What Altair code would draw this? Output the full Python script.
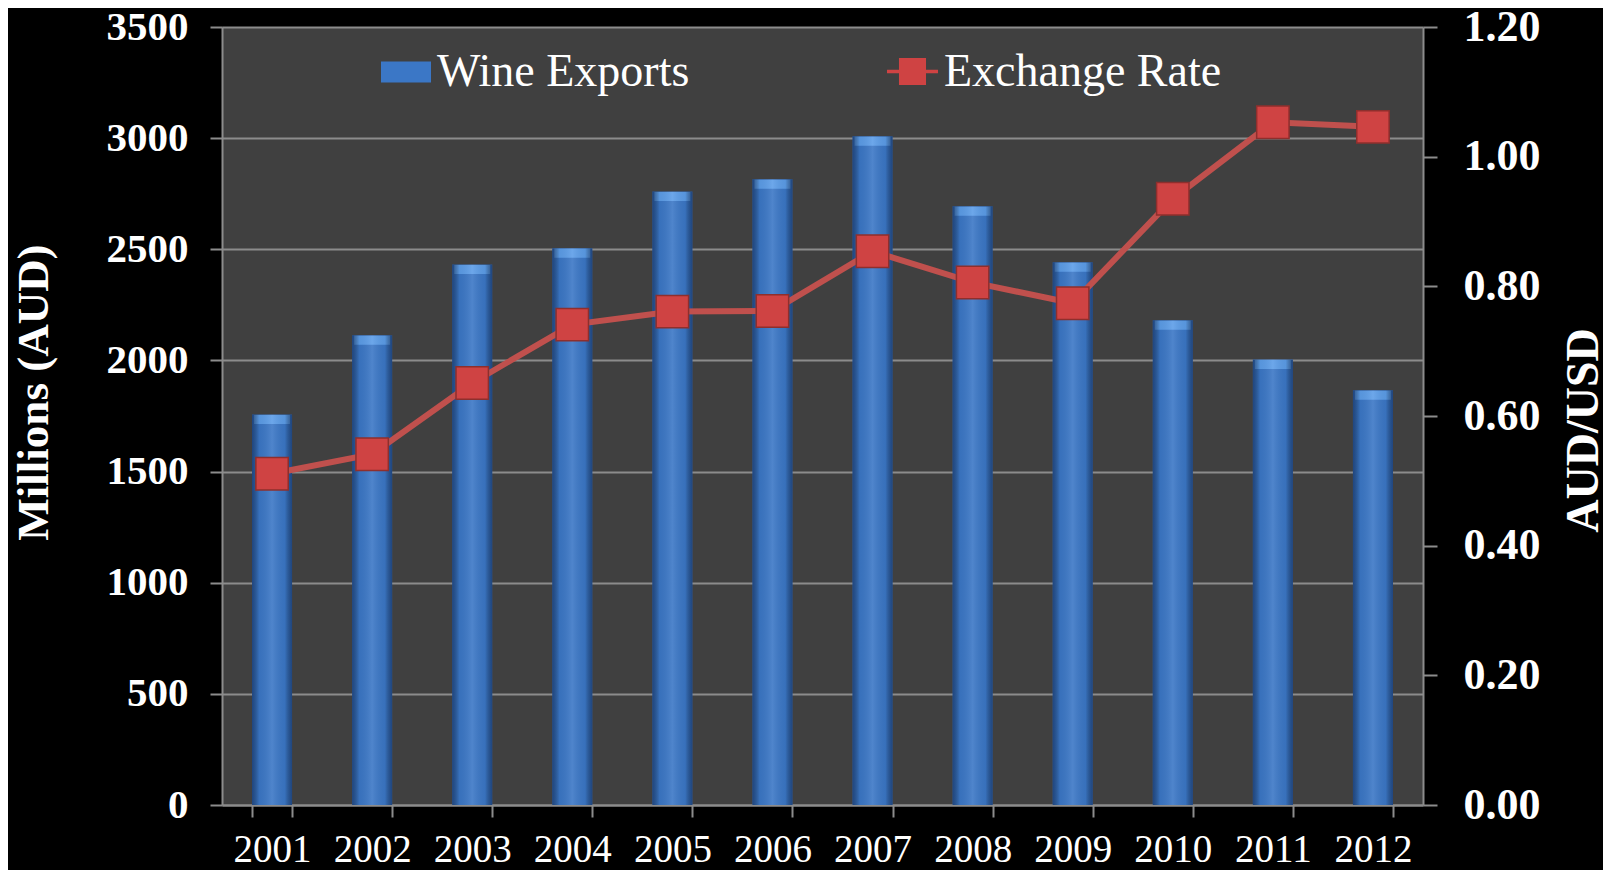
import altair as alt
import pandas as pd

years = ["2001", "2002", "2003", "2004", "2005", "2006", "2007", "2008", "2009", "2010", "2011", "2012"]
exports = [1757, 2113, 2432, 2505, 2760, 2815, 3008, 2694, 2442, 2181, 2004, 1866]
rates = [0.511, 0.541, 0.651, 0.741, 0.761, 0.762, 0.854, 0.806, 0.774, 0.935, 1.053, 1.046]
left_ticks = [0, 500, 1000, 1500, 2000, 2500, 3000, 3500]
right_ticks = [0.0, 0.2, 0.4, 0.6, 0.8, 1.0, 1.2]

df = pd.DataFrame({"year": years, "exports": exports, "rate": rates})

FONT = "Liberation Serif"
GRAY = "#8c8c8c"

x_enc = alt.X(
    "year:N",
    sort=years,
    scale=alt.Scale(paddingInner=0.6, paddingOuter=0.3),
    axis=alt.Axis(
        title=None, labelAngle=0, labelFont=FONT, labelFontSize=39,
        labelColor="white", labelFontWeight="normal", labelPadding=13,
        tickBand="extent", tickColor=GRAY, tickWidth=2, tickSize=12,
        domainColor=GRAY, domainWidth=2, grid=False,
    ),
)

y_left = alt.Y(
    "exports:Q",
    scale=alt.Scale(domain=[0, 3500], nice=False),
    axis=alt.Axis(
        title="Millions (AUD)", values=left_ticks, format="d",
        labelFont=FONT, labelFontSize=41, labelFontWeight="bold", labelColor="white",
        labelPadding=22, tickSize=12, tickColor=GRAY, tickWidth=2,
        domainColor=GRAY, domainWidth=2,
        grid=True, gridColor=GRAY, gridWidth=2,
        titleFont=FONT, titleFontSize=45, titleFontWeight="bold", titleColor="white",
        titleAngle=-90, titleX=-189, titleY=365, titleAlign="center", titleBaseline="middle",
    ),
)

y_right = alt.Y(
    "rate:Q",
    scale=alt.Scale(domain=[0, 1.2], nice=False),
    axis=alt.Axis(
        orient="right", title="AUD/USD", values=right_ticks, format=".2f",
        labelFont=FONT, labelFontSize=44, labelFontWeight="bold", labelColor="white",
        labelPadding=26, tickSize=14, tickColor=GRAY, tickWidth=2,
        domainColor=GRAY, domainWidth=2, grid=False,
        titleFont=FONT, titleFontSize=46, titleFontWeight="bold", titleColor="white",
        titleAngle=-90, titleX=160, titleY=403, titleAlign="center", titleBaseline="middle",
    ),
)

legend_common = dict(
    orient="none", direction="horizontal", title=None, padding=0,
    labelFont=FONT, labelFontSize=46, labelColor="white", labelOffset=6,
    labelLimit=0, symbolStrokeWidth=0, symbolOpacity=1,
)

bars = alt.Chart(df).mark_bar().encode(
    x=x_enc,
    y=y_left,
    fill=alt.Fill(
        "s:N",
        scale=alt.Scale(domain=["Wine Exports"], range=["#3b77c6"]),
        legend=alt.Legend(
            legendX=159, legendY=20,
            symbolType="M-1,-0.42H1V0.42H-1Z", symbolSize=2500,
            **legend_common,
        ),
    ),
).transform_calculate(s="'Wine Exports'")

bar_cap = alt.Chart(df).mark_tick(
    color="#5c9de8", thickness=9, size=36, yOffset=5, opacity=1
).encode(x=x_enc, y=y_left)

bar_shade = alt.Chart(df).mark_bar(
    fill=alt.Gradient(
        gradient="linear", x1=0, x2=1, y1=0, y2=0,
        stops=[
            alt.GradientStop(offset=0, color="rgba(10,30,70,0.55)"),
            alt.GradientStop(offset=0.18, color="rgba(0,0,0,0.05)"),
            alt.GradientStop(offset=0.5, color="rgba(255,255,255,0.10)"),
            alt.GradientStop(offset=0.82, color="rgba(0,0,0,0.05)"),
            alt.GradientStop(offset=1, color="rgba(10,30,70,0.55)"),
        ],
    )
).encode(x=x_enc, y=y_left)

line = alt.Chart(df).mark_line(color="#c0504d", strokeWidth=6).encode(
    x=x_enc, y=y_right
)

points = alt.Chart(df).mark_point(
    shape="square", filled=True, size=1050, stroke="#8e2f2d", strokeWidth=1.5, opacity=1
).encode(
    x=x_enc,
    y=y_right,
    fill=alt.Fill(
        "s2:N",
        scale=alt.Scale(domain=["Exchange Rate"], range=["#cf4343"]),
        legend=alt.Legend(
            legendX=665, legendY=19,
            symbolType="M-1,-0.07H1V0.07H-1Z M-0.53,-0.53H0.53V0.53H-0.53Z",
            symbolSize=2600,
            **legend_common,
        ),
    ),
).transform_calculate(s2="'Exchange Rate'")

left = alt.layer(bars, bar_cap, bar_shade)
right = alt.layer(line, points)

chart = (
    alt.layer(left, right)
    .resolve_scale(y="independent", fill="independent")
    .properties(
        width=1201, height=778,
        autosize=alt.AutoSizeParams(type="none"),
        padding={"left": 214, "top": 19, "right": 180, "bottom": 65},
    )
    .configure(background="black")
    .configure_view(fill="#404040", stroke=None)
)

chart.save("out.html", embed_options={"renderer": "svg", "actions": False})
